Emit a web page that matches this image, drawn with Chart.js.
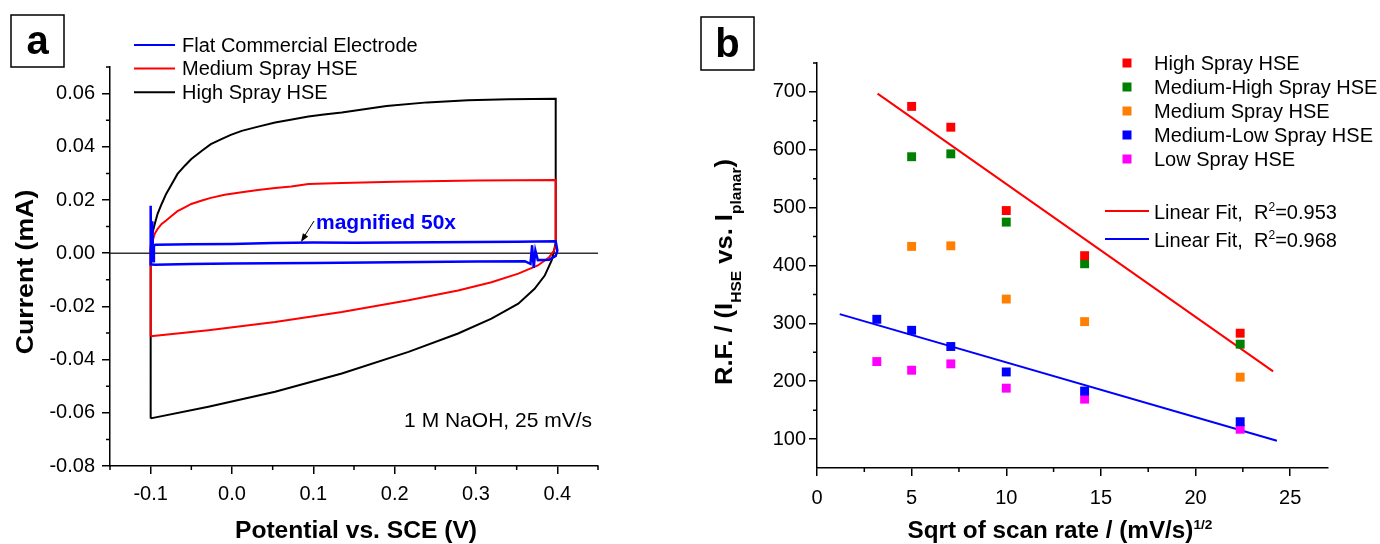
<!DOCTYPE html>
<html>
<head>
<meta charset="utf-8">
<script src="https://cdn.jsdelivr.net/npm/chart.js@4.4.1/dist/chart.umd.min.js"></script>
<style>
  html, body { margin: 0; padding: 0; background: #fff; }
  #wrap { position: relative; width: 1380px; height: 544px; }
  canvas { position: absolute; top: 0; }
  #chartA { left: 0; }
  #chartB { left: 690px; }
</style>
</head>
<body>
<div id="wrap">
  <canvas id="chartA" width="690" height="544"></canvas>
  <canvas id="chartB" width="690" height="544"></canvas>
</div>
<script>
// ---- panel a: cyclic voltammograms, [potential (V), current (mA)] ----
const flatCV = [
  [-0.100, -0.0040], [-0.100, 0.0178], [-0.0995, -0.0020], [-0.098, 0.0120], [-0.097, -0.0030],
  [-0.096, 0.0030], [-0.094, 0.0032], [-0.05, 0.0034], [0.0, 0.0035], [0.05, 0.0038],
  [0.10, 0.0040], [0.15, 0.0039], [0.20, 0.0040], [0.25, 0.0041], [0.30, 0.0042],
  [0.35, 0.0043], [0.398, 0.0045], [0.400, 0.0010], [0.398, -0.0010], [0.390, -0.0025],
  [0.376, -0.0026], [0.373, 0.0010], [0.371, -0.0055], [0.369, 0.0030], [0.367, -0.0040],
  [0.360, -0.0030], [0.30, -0.0031], [0.20, -0.0034], [0.10, -0.0037], [0.0, -0.0039],
  [-0.05, -0.0041], [-0.095, -0.0043], [-0.100, -0.0042], [-0.100, 0.0]
];
const mediumCV = [
  [-0.100, -0.0312], [-0.100, 0.0022], [-0.095, 0.0073], [-0.0915, 0.0091], [-0.0865, 0.0110],
  [-0.081, 0.0123], [-0.074, 0.0141], [-0.067, 0.0158], [-0.058, 0.0172], [-0.050, 0.0185],
  [-0.037, 0.0198], [-0.026, 0.0208], [-0.009, 0.0220], [0.012, 0.0229], [0.032, 0.0238],
  [0.053, 0.0245], [0.073, 0.0251], [0.094, 0.0260], [0.135, 0.0264], [0.20, 0.0269],
  [0.30, 0.0273], [0.398, 0.0275], [0.398, 0.0030], [0.396, 0.0010], [0.390, -0.0015],
  [0.376, -0.0046], [0.352, -0.0077], [0.319, -0.0109], [0.278, -0.0140], [0.217, -0.0177],
  [0.135, -0.0221], [0.053, -0.0259], [-0.029, -0.0290], [-0.100, -0.0312]
];
const highCV = [
  [-0.100, -0.0621], [-0.100, 0.0015], [-0.099, 0.0060], [-0.095, 0.0110], [-0.0915, 0.0148],
  [-0.0865, 0.0185], [-0.081, 0.0223], [-0.074, 0.0260], [-0.067, 0.0298], [-0.058, 0.0329],
  [-0.050, 0.0354], [-0.037, 0.0385], [-0.026, 0.0410], [-0.013, 0.0429], [-0.0015, 0.0445],
  [0.012, 0.0460], [0.031, 0.0475], [0.053, 0.0491], [0.072, 0.0502], [0.094, 0.0514],
  [0.113, 0.0521], [0.135, 0.0529], [0.19, 0.0553], [0.24, 0.0567], [0.29, 0.0575],
  [0.34, 0.0579], [0.398, 0.0581], [0.398, 0.0040], [0.396, 0.0010], [0.393, -0.0027],
  [0.3845, -0.0084], [0.372, -0.0134], [0.352, -0.0190], [0.319, -0.0246], [0.278, -0.0302],
  [0.217, -0.0371], [0.135, -0.0452], [0.053, -0.0521], [-0.029, -0.0577], [-0.100, -0.0621]
];
const aTicksX = [-0.1, 0.0, 0.1, 0.2, 0.3, 0.4];
const aTicksY = [-0.08, -0.06, -0.04, -0.02, 0.0, 0.02, 0.04, 0.06];
const aMinorX = [-0.15, -0.05, 0.05, 0.15, 0.25, 0.35, 0.45];
const aMinorY = [-0.07, -0.05, -0.03, -0.01, 0.01, 0.03, 0.05, 0.07];

// ---- panel b: roughness factor vs sqrt of scan rate ----
const sqrtRate = [3.16, 5.0, 7.07, 10.0, 14.14, 22.36];
const highRF = [null, 675, 639, 495, 417, 283];
const medHighRF = [null, 588, 593, 475, 403, 264];
const mediumRF = [null, 433, 434, 342, 303, 207];
const medLowRF = [307, 288, 260, 216, 183, 130];
const lowRF = [234, 219, 230, 188, 169, 117];
const fitHighX = [3.2, 24.1];
const fitHighY = [697, 217];
const fitLowX = [1.2, 24.3];
const fitLowY = [316, 97];
const bTicksX = [0, 5, 10, 15, 20, 25];
const bTicksY = [100, 200, 300, 400, 500, 600, 700];
const bMinorX = [2.5, 7.5, 12.5, 17.5, 22.5];
const bMinorY = [150, 250, 350, 450, 550, 650, 750];

const FONT = '"Liberation Sans", Arial, sans-serif';

function pairs(arr) {
  return arr.map(p => ({x: p[0], y: p[1]}));
}
function points(xs, ys) {
  const out = [];
  xs.forEach((x, i) => { if (ys[i] !== null) out.push({x: x, y: ys[i]}); });
  return out;
}

function axis(ticks, min, max, fmt, pad, fit) {
  return {
    type: 'linear', min: min, max: max,
    afterBuildTicks: s => { s.ticks = ticks.map(v => ({value: v})); },
    afterFit: fit,
    border: {display: true, color: '#000', width: 1.5},
    grid: {drawOnChartArea: false, drawTicks: true, tickLength: 8, color: '#000', lineWidth: 1.5},
    ticks: {color: '#000', font: {family: FONT, size: 20}, padding: pad, callback: fmt, autoSkip: false, maxRotation: 0}
  };
}

function minorTicks(chart, xs, ys) {
  const ctx = chart.ctx, sx = chart.scales.x, sy = chart.scales.y;
  ctx.save();
  ctx.strokeStyle = '#000';
  ctx.lineWidth = 1.5;
  ctx.beginPath();
  xs.forEach(v => {
    const px = sx.getPixelForValue(v);
    ctx.moveTo(px, sx.top); ctx.lineTo(px, sx.top + 4);
  });
  ys.forEach(v => {
    const py = sy.getPixelForValue(v);
    ctx.moveTo(sy.right, py); ctx.lineTo(sy.right - 4, py);
  });
  ctx.stroke();
  ctx.restore();
}

// text made of parts {t, font, dy}; optional -90deg rotation and stretch along the text
function richText(ctx, parts, x, y, align, rotated, stretch) {
  const st = stretch || 1;
  ctx.save();
  ctx.translate(x, y);
  if (rotated) ctx.rotate(-Math.PI / 2);
  ctx.scale(st, 1);
  let total = 0;
  parts.forEach(p => { ctx.font = p.font; total += ctx.measureText(p.t).width; });
  let cx = align === 'center' ? -total / 2 : 0;
  ctx.textBaseline = 'alphabetic';
  ctx.textAlign = 'left';
  parts.forEach(p => {
    ctx.font = p.font;
    ctx.fillStyle = p.color || '#000';
    ctx.fillText(p.t, cx, p.dy || 0);
    cx += ctx.measureText(p.t).width;
  });
  ctx.restore();
}

function panelLabel(ctx, letter, x, y, w, h) {
  ctx.save();
  ctx.strokeStyle = '#000';
  ctx.lineWidth = 1.5;
  ctx.strokeRect(x, y, w, h);
  ctx.fillStyle = '#000';
  ctx.font = 'bold 40px ' + FONT;
  ctx.textAlign = 'center';
  ctx.textBaseline = 'middle';
  ctx.fillText(letter, x + w / 2, y + h / 2 + 2);
  ctx.restore();
}

const bold = s => 'bold ' + s + 'px ' + FONT;
const normal = s => s + 'px ' + FONT;

// ---- chart a ----
const panelA = {
  id: 'panelA',
  beforeDatasetsDraw(chart) {
    const ctx = chart.ctx, y0 = chart.scales.y.getPixelForValue(0);
    ctx.save();
    ctx.strokeStyle = '#333';
    ctx.lineWidth = 1.5;
    ctx.beginPath();
    ctx.moveTo(chart.chartArea.left, y0);
    ctx.lineTo(chart.chartArea.right, y0);
    ctx.stroke();
    ctx.restore();
  },
  afterDraw(chart) {
    const ctx = chart.ctx;
    minorTicks(chart, aMinorX, aMinorY);
    panelLabel(ctx, 'a', 11, 15, 53, 52);

    // legend
    const rows = [['Flat Commercial Electrode', '#0000ff'], ['Medium Spray HSE', '#ff0000'], ['High Spray HSE', '#000']];
    ctx.save();
    ctx.font = normal(20);
    ctx.textBaseline = 'middle';
    rows.forEach((r, i) => {
      const y = 45 + i * 23.6;
      ctx.strokeStyle = r[1];
      ctx.lineWidth = 2;
      ctx.beginPath(); ctx.moveTo(134, y); ctx.lineTo(175, y); ctx.stroke();
      ctx.fillStyle = '#000';
      ctx.fillText(r[0], 182, y + 1);
    });

    // annotations
    ctx.fillStyle = '#0000ff';
    ctx.font = bold(21);
    ctx.textBaseline = 'alphabetic';
    ctx.fillText('magnified 50x', 316, 229);
    ctx.strokeStyle = '#000';
    ctx.lineWidth = 1;
    ctx.beginPath(); ctx.moveTo(314, 221); ctx.lineTo(302, 240); ctx.stroke();
    const ang = Math.atan2(240 - 221, 302 - 314);
    ctx.fillStyle = '#000';
    ctx.beginPath();
    ctx.moveTo(301, 242);
    ctx.lineTo(301 - 9 * Math.cos(ang - 0.35), 242 - 9 * Math.sin(ang - 0.35));
    ctx.lineTo(301 - 9 * Math.cos(ang + 0.35), 242 - 9 * Math.sin(ang + 0.35));
    ctx.closePath(); ctx.fill();

    ctx.fillStyle = '#000';
    ctx.font = normal(21);
    ctx.textAlign = 'right';
    ctx.fillText('1 M NaOH, 25 mV/s', 592, 427);
    ctx.restore();

    richText(ctx, [{t: 'Potential vs. SCE (V)', font: bold(23)}], 356, 538, 'center', false, 1.07);
    richText(ctx, [{t: 'Current (mA)', font: bold(23)}], 33, 272, 'center', true, 1.16);
  }
};

new Chart(document.getElementById('chartA'), {
  type: 'scatter',
  data: {
    datasets: [
      {label: 'Flat Commercial Electrode', data: pairs(flatCV), borderColor: '#0000ff', borderWidth: 2.5},
      {label: 'Medium Spray HSE', data: pairs(mediumCV), borderColor: '#ff0000', borderWidth: 2},
      {label: 'High Spray HSE', data: pairs(highCV), borderColor: '#000', borderWidth: 2}
    ].map(d => Object.assign(d, {showLine: true, pointRadius: 0, tension: 0, fill: false}))
  },
  options: {
    responsive: false, animation: false,
    layout: {padding: {left: 0, top: 67, right: 92, bottom: 0}},
    plugins: {legend: {display: false}, tooltip: {enabled: false}},
    scales: {
      x: axis(aTicksX, -0.15, 0.45, v => v.toFixed(1), 8, s => { s.height = 78; }),
      y: axis(aTicksY, -0.08, 0.07, v => v.toFixed(2), 7, s => { s.width = 110; })
    }
  },
  plugins: [panelA]
});

// ---- chart b ----
const seriesB = [
  ['High Spray HSE', highRF, '#ff0000'],
  ['Medium-High Spray HSE', medHighRF, '#008000'],
  ['Medium Spray HSE', mediumRF, '#ff8000'],
  ['Medium-Low Spray HSE', medLowRF, '#0000ff'],
  ['Low Spray HSE', lowRF, '#ff00ff']
];

const panelB = {
  id: 'panelB',
  afterDraw(chart) {
    const ctx = chart.ctx;
    minorTicks(chart, bMinorX, bMinorY);
    panelLabel(ctx, 'b', 11, 17, 53, 53);

    ctx.save();
    ctx.font = normal(20);
    ctx.textBaseline = 'middle';
    seriesB.forEach((s, i) => {
      const y = 63 + i * 24;
      ctx.fillStyle = s[2];
      ctx.fillRect(437 - 4.5, y - 4.5, 9, 9);
      ctx.fillStyle = '#000';
      ctx.fillText(s[0], 464, y + 1);
    });
    const fits = [['#ff0000', '0.953', 211], ['#0000ff', '0.968', 239]];
    fits.forEach(f => {
      ctx.strokeStyle = f[0];
      ctx.lineWidth = 2;
      ctx.beginPath(); ctx.moveTo(415, f[2]); ctx.lineTo(459, f[2]); ctx.stroke();
    });
    ctx.restore();
    fits.forEach(f => {
      richText(ctx, [
        {t: 'Linear Fit,  R', font: normal(20)},
        {t: '2', font: normal(12), dy: -8},
        {t: '=' + f[1], font: normal(20)}
      ], 464, f[2] + 8, 'left', false);
    });

    richText(ctx, [
      {t: 'Sqrt of scan rate / (mV/s)', font: bold(23)},
      {t: '1/2', font: bold(13), dy: -9}
    ], 370, 538, 'center', false, 1.055);
    richText(ctx, [
      {t: 'R.F. / (I', font: bold(23)},
      {t: 'HSE', font: bold(14), dy: 9},
      {t: ' vs. I', font: bold(23)},
      {t: 'planar', font: bold(14), dy: 9},
      {t: ')', font: bold(23)}
    ], 42, 272, 'center', true, 1.11);
  }
};

const pointSets = seriesB.map(s => ({
  label: s[0], data: points(sqrtRate, s[1]), backgroundColor: s[2], borderWidth: 0,
  pointStyle: 'rect', pointRadius: 6.3, showLine: false
}));
const fitSets = [
  {label: 'Linear Fit high', data: points(fitHighX, fitHighY), borderColor: '#ff0000'},
  {label: 'Linear Fit low', data: points(fitLowX, fitLowY), borderColor: '#0000ff'}
].map(d => Object.assign(d, {showLine: true, pointRadius: 0, borderWidth: 2}));

new Chart(document.getElementById('chartB'), {
  type: 'scatter',
  data: {datasets: pointSets.concat(fitSets)},
  options: {
    responsive: false, animation: false,
    layout: {padding: {left: 0, top: 63, right: 52, bottom: 0}},
    plugins: {legend: {display: false}, tooltip: {enabled: false}},
    scales: {
      x: axis(bTicksX, 0, 27, v => String(v), 10, s => { s.height = 76; }),
      y: axis(bTicksY, 50, 750, v => String(v), 3, s => { s.width = 127; })
    }
  },
  plugins: [panelB]
});
</script>
</body>
</html>
